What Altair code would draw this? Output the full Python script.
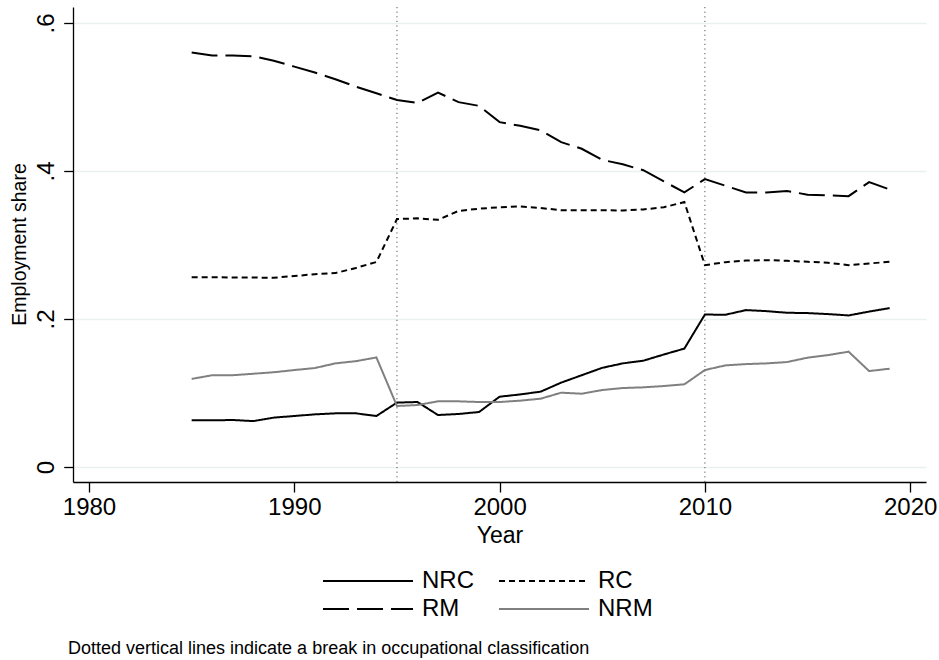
import altair as alt
import pandas as pd

# Employment shares by occupation group, 1985-2019
years = [1985, 1986, 1987, 1988, 1989, 1990, 1991, 1992, 1993, 1994,
         1995, 1996, 1997, 1998, 1999, 2000, 2001, 2002, 2003, 2004,
         2005, 2006, 2007, 2008, 2009, 2010, 2011, 2012, 2013, 2014,
         2015, 2016, 2017, 2018, 2019]

nrc = [0.063, 0.063, 0.0635, 0.062, 0.0667, 0.0689, 0.0711, 0.0725, 0.0725, 0.0689,
       0.087, 0.0878, 0.0702, 0.0716, 0.0743, 0.095, 0.098, 0.1018, 0.114, 0.124,
       0.134, 0.140, 0.1436, 0.152, 0.160, 0.206, 0.2057, 0.212, 0.2106, 0.2084,
       0.208, 0.2066, 0.2048, 0.210, 0.2147]

rc = [0.2565, 0.2565, 0.256, 0.256, 0.2557, 0.258, 0.2606, 0.262, 0.269, 0.277,
      0.335, 0.336, 0.334, 0.346, 0.349, 0.351, 0.352, 0.350, 0.347, 0.347,
      0.347, 0.3466, 0.348, 0.351, 0.358, 0.2727, 0.2768, 0.279, 0.2795, 0.2787,
      0.2773, 0.276, 0.2727, 0.275, 0.2773]

rm = [0.560, 0.556, 0.556, 0.555, 0.549, 0.541, 0.533, 0.524, 0.514, 0.505,
      0.496, 0.492, 0.506, 0.493, 0.488, 0.466, 0.461, 0.455, 0.439, 0.430,
      0.415, 0.409, 0.401, 0.386, 0.371, 0.389, 0.380, 0.371, 0.371, 0.373,
      0.368, 0.367, 0.366, 0.385, 0.375]

nrm = [0.119, 0.124, 0.124, 0.126, 0.128, 0.131, 0.1337, 0.140, 0.143, 0.148,
       0.0824, 0.0837, 0.0887, 0.0887, 0.0878, 0.0878, 0.0896, 0.0923, 0.1004, 0.099,
       0.104, 0.1067, 0.1076, 0.1094, 0.1117, 0.131, 0.1373, 0.139, 0.140, 0.1418,
       0.1477, 0.1512, 0.1558, 0.1296, 0.1328]

# Legend fills column by column: first column NRC / RM, second RC / NRM
groups = ["NRC", "RM", "RC", "NRM"]
group_colors = ["#000000", "#000000", "#000000", "#808080"]
group_dashes = [[1, 0], [26, 8], [6, 4], [1, 0]]

break_years = [1995, 2010]
x_ticks = [1980, 1990, 2000, 2010, 2020]
y_ticks = [0, 0.2, 0.4, 0.6]
note = "Dotted vertical lines indicate a break in occupational classification"

FONT = "Liberation Sans"

series = {"NRC": nrc, "RC": rc, "RM": rm, "NRM": nrm}
rows = []
for g in groups:
    for yr, v in zip(years, series[g]):
        rows.append({"year": yr, "share": v, "group": g})
df = pd.DataFrame(rows)
df_breaks = pd.DataFrame({"year": break_years})
df_note = pd.DataFrame({"note": [note]})

x_scale = alt.Scale(domain=[1979.22, 2020.77], nice=False, zero=False)
y_scale = alt.Scale(domain=[-0.0203, 0.6216], nice=False, zero=False)

x_axis = alt.Axis(
    values=x_ticks, format="d", title="Year", grid=False,
    labelFont=FONT, labelFontSize=24, labelColor="#000000",
    labelBaseline="alphabetic", labelPadding=22, labelFlush=False,
    labelOverlap=False,
    tickSize=10, tickWidth=1.3, tickColor="#000000",
    domainColor="#000000", domainWidth=1.3,
    titleFont=FONT, titleFontSize=23, titleFontWeight="normal",
    titleColor="#000000", titleBaseline="alphabetic", titleY=60.6,
    titleX=426.5, titleAlign="center",
)

y_axis = alt.Axis(
    values=y_ticks, title="Employment share",
    labelExpr="datum.value == 0 ? '0' : replace(format(datum.value, '.1f'), '0.', '.')",
    labelFont=FONT, labelFontSize=24, labelColor="#000000",
    labelAngle=270, labelAlign="center", labelBaseline="alphabetic",
    labelPadding=10, labelFlush=False, labelOverlap=False,
    tickSize=9.3, tickWidth=1.3, tickColor="#000000",
    domainColor="#000000", domainWidth=1.3,
    grid=True, gridColor="#eaf1f3", gridWidth=1.5,
    titleFont=FONT, titleFontSize=19.5, titleFontWeight="normal",
    titleColor="#000000", titleAngle=270, titleAlign="center",
    titleBaseline="alphabetic", titleX=-48, titleY=237,
)

# Legend keys: a wide horizontal stroke path drawn on a small symbol box,
# so rows stay compact while each key is about 90 px long
legend = alt.Legend(
    title=None, orient="none", legendX=283, legendY=562,
    columns=2, symbolType="M-5,0H5", symbolSize=324,
    symbolStrokeWidth=2, labelFont=FONT, labelFontSize=24,
    labelColor="#000000", labelOffset=42, rowPadding=4,
    columnPadding=21, padding=0,
)

breaks = alt.Chart(df_breaks).mark_rule(
    color="#555555", strokeWidth=1, strokeDash=[1.2, 3.4]
).encode(x=alt.X("year:Q", scale=x_scale, axis=x_axis))

lines = alt.Chart(df).mark_line(strokeWidth=2).encode(
    x=alt.X("year:Q", scale=x_scale, axis=x_axis),
    y=alt.Y("share:Q", scale=y_scale, axis=y_axis),
    color=alt.Color("group:N", scale=alt.Scale(domain=groups, range=group_colors),
                    sort=groups, legend=legend),
    strokeDash=alt.StrokeDash("group:N", scale=alt.Scale(domain=groups, range=group_dashes),
                              sort=groups, legend=legend),
    order=alt.Order("year:Q"),
)

footnote = alt.Chart(df_note).mark_text(
    align="left", baseline="alphabetic", font=FONT, fontSize=18, color="#000000"
).encode(x=alt.value(-5), y=alt.value(647), text="note:N")

chart = alt.layer(breaks, lines, footnote).properties(
    width=853, height=475,
    autosize=alt.AutoSizeParams(type="none"),
    padding={"left": 73, "top": 7, "right": 13, "bottom": 178},
    background="#ffffff",
).configure_view(stroke=None)

chart.save("out.html", embed_options={"renderer": "svg", "actions": False})
